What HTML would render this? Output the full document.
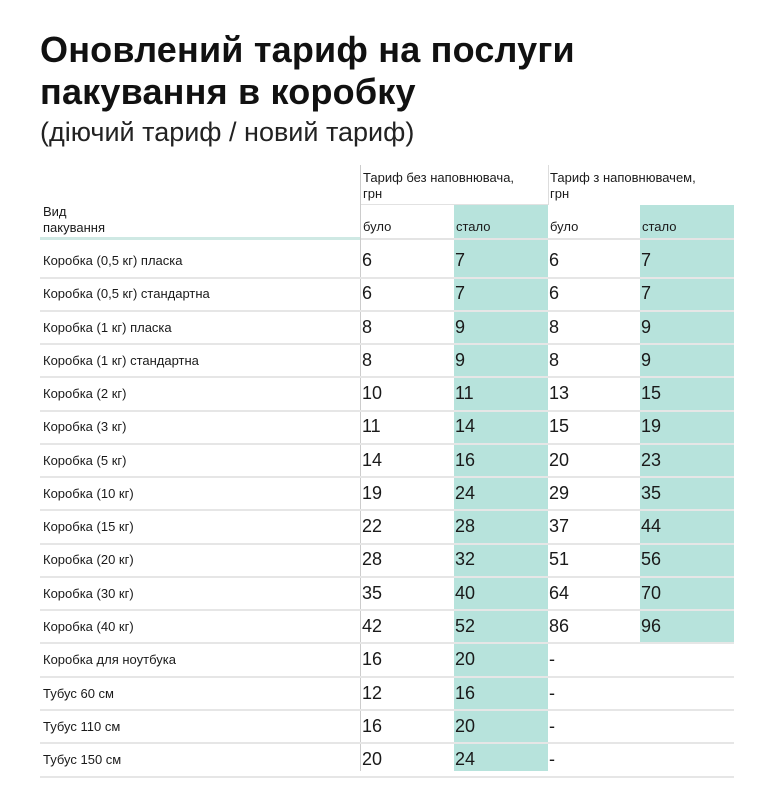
<!DOCTYPE html>
<html><head><meta charset="utf-8"><style>
body{margin:0;width:758px;height:791px;background:#fff;font-family:"Liberation Sans","DejaVu Sans",sans-serif;color:#1a1a1a;position:relative;overflow:hidden}
.a{position:absolute;white-space:nowrap}
h1{position:absolute;left:40px;top:29px;margin:0;font-size:36px;line-height:42px;font-weight:bold;color:#111;letter-spacing:0.2px}
.sub{left:40px;top:117px;font-size:27px;color:#222}
.teal{position:absolute;background:#b7e3dc}
.hl{position:absolute;left:40px;width:694px;height:2px;background:#e6e6e6}
.lbl{font-size:13px;left:43px}
.n{font-size:18px}
.h{font-size:13px}
</style></head><body>
<h1>Оновлений тариф на послуги<br>пакування в коробку</h1>
<div class="a sub">(діючий тариф / новий тариф)</div>
<div class="teal" style="left:454px;top:205px;width:94px;height:566px"></div>
<div class="teal" style="left:640px;top:205px;width:94px;height:438px"></div>
<div class="a" style="left:360px;top:165px;width:1px;height:606px;background:#ccc"></div>
<div class="a" style="left:548px;top:165px;width:1px;height:40px;background:#ddd"></div>
<div class="a" style="left:361px;top:204px;width:187px;height:1px;background:#e2e2e2"></div>
<div class="a h" style="left:363px;top:170px;line-height:16px">Тариф без наповнювача,<br>грн</div>
<div class="a h" style="left:550px;top:170px;line-height:16px">Тариф з наповнювачем,<br>грн</div>
<div class="a h" style="left:43px;top:204px;line-height:16px">Вид<br>пакування</div>
<div class="a h" style="left:363px;top:219px">було</div>
<div class="a h" style="left:456px;top:219px">стало</div>
<div class="a h" style="left:550px;top:219px">було</div>
<div class="a h" style="left:642px;top:219px">стало</div>
<div class="a" style="left:40px;top:237px;width:320px;height:3px;background:#cfe9e4"></div>
<div class="a" style="left:361px;top:238px;width:373px;height:2px;background:#e4e4e4"></div>
<div id="rows"></div>
<script>
var d=[["Коробка (0,5 кг) пласка",6,7,6,7],["Коробка (0,5 кг) стандартна",6,7,6,7],["Коробка (1 кг) пласка",8,9,8,9],["Коробка (1 кг) стандартна",8,9,8,9],["Коробка (2 кг)",10,11,13,15],["Коробка (3 кг)",11,14,15,19],["Коробка (5 кг)",14,16,20,23],["Коробка (10 кг)",19,24,29,35],["Коробка (15 кг)",22,28,37,44],["Коробка (20 кг)",28,32,51,56],["Коробка (30 кг)",35,40,64,70],["Коробка (40 кг)",42,52,86,96],["Коробка для ноутбука",16,20,"-",""],["Тубус 60 см",12,16,"-",""],["Тубус 110 см",16,20,"-",""],["Тубус 150 см",20,24,"-",""]];
var h="";
d.forEach(function(r,i){var c=261+i*33.27;
h+='<div class="a lbl" style="top:'+(c-8)+'px">'+r[0]+'</div>';
[362,455,549,641].forEach(function(x,j){h+='<div class="a n" style="left:'+x+'px;top:'+(c-11)+'px">'+r[j+1]+'</div>';});
h+='<div class="hl" style="top:'+(c+15.5)+'px"></div>';});
document.getElementById("rows").innerHTML=h;
</script>
</body></html>
